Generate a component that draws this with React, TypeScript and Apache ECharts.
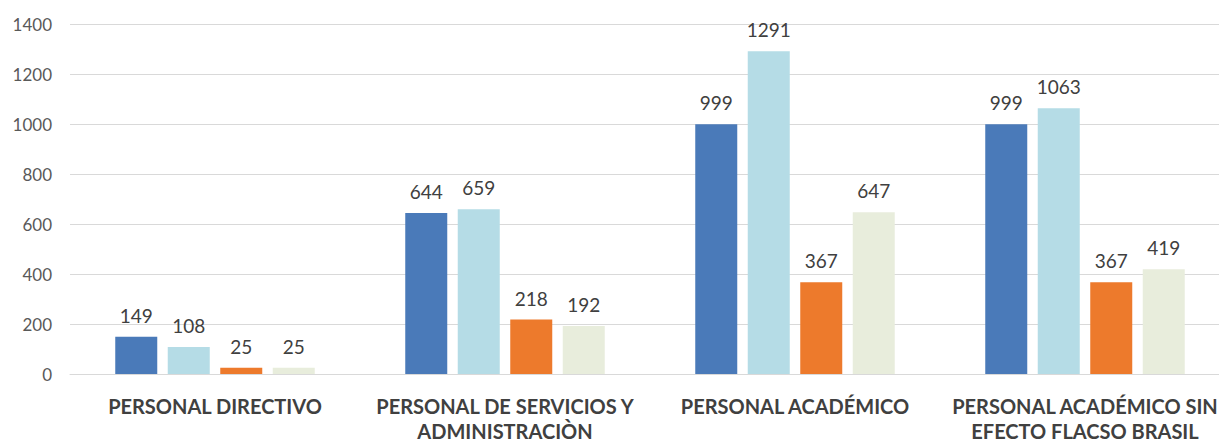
import React, { useEffect, useRef } from "react";
import * as echarts from "echarts";

const categories = [
  "PERSONAL DIRECTIVO",
  "PERSONAL DE SERVICIOS Y\nADMINISTRACIÒN",
  "PERSONAL ACADÉMICO",
  "PERSONAL ACADÉMICO SIN\nEFECTO FLACSO BRASIL",
];
const series1 = [149, 644, 999, 999];
const series2 = [108, 659, 1291, 1063];
const series3 = [25, 218, 367, 367];
const series4 = [25, 192, 647, 419];
const seriesColors = ["#4a7ab9", "#b5dce6", "#ed7a2c", "#e8eddc"];

export default function App() {
  const ref = useRef<HTMLDivElement>(null);
  useEffect(() => {
    if (!ref.current) return;
    const chart = echarts.init(ref.current, undefined, { renderer: "svg" });
    const font = "Lato, 'Open Sans', sans-serif";
    const mk = (data: number[], color: string) => ({
      type: "bar",
      data,
      barWidth: 42,
      barGap: "25%",
      itemStyle: { color },
      label: {
        show: true,
        position: "top",
        distance: 12,
        fontFamily: font,
        fontSize: 19,
        color: "#404040",
      },
    });
    chart.setOption({
      animation: false,
      backgroundColor: "#ffffff",
      grid: {
        left: 70,
        top: 24,
        width: 1160,
        height: 350,
        containLabel: false,
        outerBoundsMode: "none",
      },
      xAxis: {
        type: "category",
        data: categories,
        axisLine: { show: true, lineStyle: { color: "#d9d9d9", width: 1 } },
        axisTick: { show: false },
        axisLabel: {
          interval: 0,
          margin: 19,
          fontFamily: font,
          fontWeight: "bold",
          fontSize: 20,
          lineHeight: 25,
          color: "#404040",
        },
      },
      yAxis: {
        type: "value",
        min: 0,
        max: 1400,
        interval: 200,
        axisLine: { show: false },
        axisTick: { show: false },
        splitLine: { lineStyle: { color: "#d9d9d9", width: 1 } },
        axisLabel: {
          margin: 18,
          fontFamily: font,
          fontSize: 17,
          color: "#595959",
          formatter: (v: number) => String(v),
        },
      },
      series: [
        mk(series1, seriesColors[0]),
        mk(series2, seriesColors[1]),
        mk(series3, seriesColors[2]),
        mk(series4, seriesColors[3]),
      ],
    });
    return () => chart.dispose();
  }, []);
  return (
    <div
      style={{
        position: "fixed",
        left: 0,
        top: 0,
        width: 1219,
        height: 441,
        overflow: "hidden",
        background: "#fff",
      }}
    >
      <div ref={ref} style={{ width: 1260, height: 441 }} />
    </div>
  );
}
